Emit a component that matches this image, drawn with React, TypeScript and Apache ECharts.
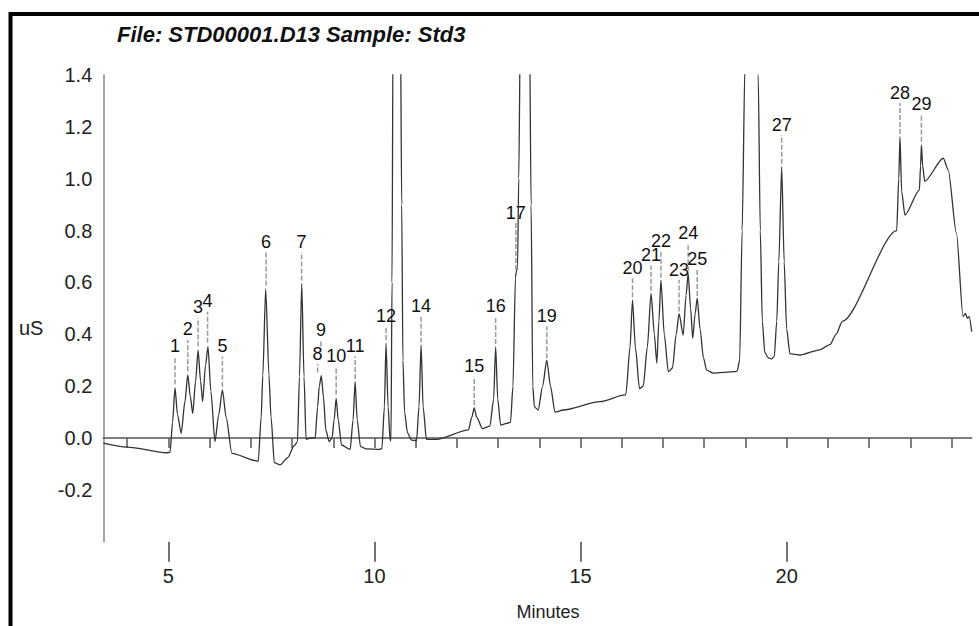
import React, { useEffect, useRef } from 'react';
import * as echarts from 'echarts';

// ---- Trace (time in minutes, conductivity in uS) ----
const traceEarly: number[][] = [
  [3.42, -0.02], [4.0, -0.035], [4.96, -0.057], [5.04, -0.055], [5.1, 0.06], [5.16, 0.193],
  [5.22, 0.09], [5.31, 0.018], [5.4, 0.14], [5.47, 0.243], [5.53, 0.16], [5.59, 0.095],
  [5.66, 0.22], [5.72, 0.339], [5.78, 0.22], [5.83, 0.14], [5.9, 0.28], [5.96, 0.352],
  [6.03, 0.18], [6.13, -0.014], [6.22, 0.09], [6.31, 0.185], [6.4, 0.08], [6.54, -0.059],
  [7.14, -0.088],
];
const traceMid: number[][] = [
  [7.18, -0.09], [7.25, 0.08], [7.29, 0.24], [7.36, 0.575], [7.44, 0.24], [7.49, 0.08],
  [7.57, -0.095], [7.71, -0.104], [7.9, -0.075], [8.05, -0.03], [8.13, -0.015], [8.18, 0.236],
  [8.235, 0.595], [8.29, 0.236], [8.34, -0.005], [8.45, 0.0], [8.56, 0.0], [8.62, 0.12],
  [8.66, 0.2], [8.71, 0.24], [8.76, 0.16], [8.82, 0.03], [8.9, -0.014], [8.97, 0.0],
  [9.02, 0.07], [9.07, 0.153], [9.12, 0.07], [9.2, -0.027], [9.41, -0.044], [9.48, 0.07],
  [9.53, 0.217], [9.58, 0.07], [9.66, -0.033], [9.8, -0.042], [10.13, -0.044],
];
const traceCentre: number[][] = [
  [10.18, -0.04], [10.24, 0.12], [10.28, 0.365], [10.33, 0.12], [10.38, -0.01], [10.4, -0.01],
  [10.425, 0.6], [10.45, 1.6], [10.63, 1.6], [10.66, 0.9], [10.69, 0.3], [10.73, 0.1],
  [10.8, 0.02], [10.9, -0.008], [11.02, -0.01], [11.08, 0.12], [11.13, 0.359], [11.18, 0.12],
  [11.26, -0.005], [11.51, -0.005], [12.28, 0.031], [12.36, 0.08], [12.42, 0.116], [12.48, 0.08],
  [12.62, 0.036], [12.8, 0.046], [12.89, 0.15], [12.94, 0.352], [12.99, 0.15], [13.06, 0.05],
  [13.3, 0.06], [13.36, 0.2], [13.42, 0.62], [13.44, 0.64], [13.47, 0.66], [13.5, 1.0],
  [13.54, 1.6], [13.76, 1.6], [13.8, 0.9], [13.84, 0.2], [13.88, 0.12], [13.97, 0.108],
  [14.08, 0.2], [14.18, 0.3], [14.27, 0.2], [14.38, 0.1],
];
const traceLate: number[][] = [
  [14.58, 0.108], [15.47, 0.14], [16.08, 0.166], [16.1, 0.17], [16.2, 0.35], [16.26, 0.532],
  [16.33, 0.35], [16.43, 0.19], [16.52, 0.2], [16.62, 0.35], [16.71, 0.558], [16.79, 0.4],
  [16.85, 0.288], [16.9, 0.45], [16.95, 0.609], [17.03, 0.4], [17.13, 0.256], [17.23, 0.27],
  [17.32, 0.4], [17.39, 0.48], [17.49, 0.397], [17.56, 0.55], [17.61, 0.635], [17.67, 0.5],
  [17.72, 0.384], [17.78, 0.48], [17.83, 0.539], [17.9, 0.42], [17.98, 0.31], [18.06, 0.262],
  [18.22, 0.25], [18.74, 0.256],
];
const traceEnd: number[][] = [
  [18.8, 0.258], [18.86, 0.3], [18.92, 0.8], [18.99, 1.45], [19.02, 1.6], [19.28, 1.6],
  [19.31, 1.4], [19.36, 0.8], [19.41, 0.45], [19.47, 0.33], [19.55, 0.31], [19.63, 0.305],
  [19.7, 0.315], [19.76, 0.45], [19.81, 0.68], [19.88, 1.046], [19.94, 0.68], [20.0, 0.42],
  [20.08, 0.325], [20.32, 0.32], [20.8, 0.34], [21.05, 0.36], [21.2, 0.4], [21.35, 0.45],
  [22.67, 0.8], [22.72, 1.0], [22.75, 1.162], [22.79, 0.95], [22.87, 0.86], [23.22, 0.956],
  [23.25, 1.05], [23.27, 1.13], [23.3, 1.05], [23.35, 0.99], [23.8, 1.079], [23.92, 1.034],
  [24.12, 0.789], [24.28, 0.468], [24.34, 0.481], [24.38, 0.462], [24.43, 0.468], [24.49, 0.41],
];

// ---- Peak annotations ----
const peakIds = [1, 2, 3, 4, 5, 6, 7, 8, 9, 10, 11, 12, 14, 15, 16, 17, 19, 20, 21, 22, 23, 24, 25, 27, 28, 29];
const peakTimes = [5.16, 5.47, 5.72, 5.95, 6.31, 7.37, 8.23, 8.62, 8.7, 9.07, 9.53, 10.28, 11.13, 12.42, 12.94, 13.43, 14.18, 16.26, 16.71, 16.95, 17.39, 17.61, 17.83, 19.88, 22.75, 23.27];
const peakApex = [0.2, 0.25, 0.345, 0.36, 0.19, 0.58, 0.6, 0.245, 0.345, 0.16, 0.22, 0.37, 0.36, 0.12, 0.355, 0.64, 0.3, 0.535, 0.56, 0.61, 0.48, 0.635, 0.54, 1.05, 1.165, 1.135];
const peakTagTop = [0.314, 0.378, 0.463, 0.487, 0.314, 0.717, 0.717, 0.285, 0.377, 0.275, 0.314, 0.43, 0.468, 0.236, 0.468, 0.829, 0.43, 0.617, 0.665, 0.718, 0.609, 0.752, 0.648, 1.168, 1.292, 1.246];

// ---- Axes ----
const xMin = 3.42;
const xMax = 24.49;
const xMinorTicks = [4, 5, 6, 7, 8, 9, 10, 11, 12, 13, 14, 15, 16, 17, 18, 19, 20, 21, 22, 23, 24];
const xMajorTicks = [5, 10, 15, 20];
const yMin = -0.4;
const yMax = 1.4;
const yStep = 0.2;

const titleText = 'File: STD00001.D13 Sample: Std3';
const xName = 'Minutes';
const yName = 'uS';

const FONT = '"Liberation Sans", Arial, Helvetica, sans-serif';

export default function App() {
  const ref = useRef<HTMLDivElement>(null);

  useEffect(() => {
    const chart = echarts.init(ref.current!, null, { renderer: 'svg' });
    const trace = [...traceEarly, ...traceMid, ...traceCentre, ...traceLate, ...traceEnd];
    const peaks = peakIds.map((id, i) => [peakTimes[i], peakApex[i], peakTagTop[i], id]);

    chart.setOption({
      animation: false,
      backgroundColor: '#fff',
      grid: { left: 103.3, right: 7.3, top: 75, bottom: 84.3, containLabel: false },
      graphic: [
        {
          type: 'rect',
          silent: true,
          shape: { x: 10.5, y: 14, width: 1000, height: 700 },
          style: { fill: 'none', stroke: '#000', lineWidth: 4 },
        },
        {
          type: 'text',
          x: 117,
          y: 23,
          style: { text: titleText, font: `italic bold 22px ${FONT}`, fill: '#111' },
        },
        {
          type: 'text',
          x: 19,
          y: 318,
          style: { text: yName, font: `20px ${FONT}`, fill: '#222' },
        },
        {
          type: 'text',
          x: 548,
          y: 612,
          style: {
            text: xName,
            font: `18px ${FONT}`,
            fill: '#222',
            align: 'center',
            verticalAlign: 'middle',
            textAlign: 'center',
            textVerticalAlign: 'middle',
          },
        },
      ],
      xAxis: [
        {
          type: 'value',
          min: xMin,
          max: xMax,
          position: 'bottom',
          splitLine: { show: false },
          axisLine: { show: true, lineStyle: { color: '#555', width: 1.5 } },
          axisTick: { show: true, customValues: xMinorTicks, length: 10, lineStyle: { color: '#555', width: 1.5 } },
          axisLabel: {
            show: true,
            customValues: xMajorTicks,
            margin: 24,
            fontSize: 20,
            fontFamily: FONT,
            color: '#222',
          },
        },
        {
          type: 'value',
          min: xMin,
          max: xMax,
          position: 'bottom',
          splitLine: { show: false },
          axisLine: { show: false },
          axisTick: { show: true, customValues: xMajorTicks, length: 20, lineStyle: { color: '#444', width: 1.5 } },
          axisLabel: { show: false },
        },
      ],
      yAxis: {
        type: 'value',
        min: yMin,
        max: yMax,
        interval: yStep,
        splitLine: { show: false },
        axisLine: { show: true, lineStyle: { color: '#888', width: 1.5 } },
        axisTick: { show: false },
        axisLabel: {
          margin: 11,
          fontSize: 20,
          fontFamily: FONT,
          color: '#222',
          formatter: (v: number) => (v < yMin + 0.01 ? '' : v.toFixed(1)),
        },
      },
      series: [
        {
          type: 'line',
          data: trace,
          showSymbol: false,
          symbol: 'none',
          clip: true,
          smooth: 0.25,
          smoothMonotone: 'x',
          lineStyle: { color: '#333', width: 1.3 },
          z: 2,
        },
        {
          type: 'custom',
          data: peaks,
          z: 3,
          renderItem: (_params: any, api: any) => {
            const t = api.value(0);
            const apex = api.value(1);
            const top = api.value(2);
            const id = api.value(3);
            const pb = api.coord([t, apex]);
            const pt = api.coord([t, top]);
            return {
              type: 'group',
              children: [
                {
                  type: 'line',
                  shape: { x1: pb[0], y1: pb[1] - 2, x2: pt[0], y2: pt[1] },
                  style: { stroke: '#9a9a9a', lineWidth: 1.5, lineDash: [5, 2] },
                },
                {
                  type: 'text',
                  x: pt[0],
                  y: pt[1] - 4,
                  style: {
                    text: String(id),
                    font: `18px ${FONT}`,
                    lineHeight: 13,
                    fill: '#111',
                    align: 'center',
                    verticalAlign: 'bottom',
                    textAlign: 'center',
                    textVerticalAlign: 'bottom',
                  },
                },
              ],
            };
          },
        },
      ],
    });

    return () => chart.dispose();
  }, []);

  return (
    <div
      ref={ref}
      style={{ position: 'fixed', left: 0, top: 0, width: 979, height: 626, background: '#fff' }}
    />
  );
}
